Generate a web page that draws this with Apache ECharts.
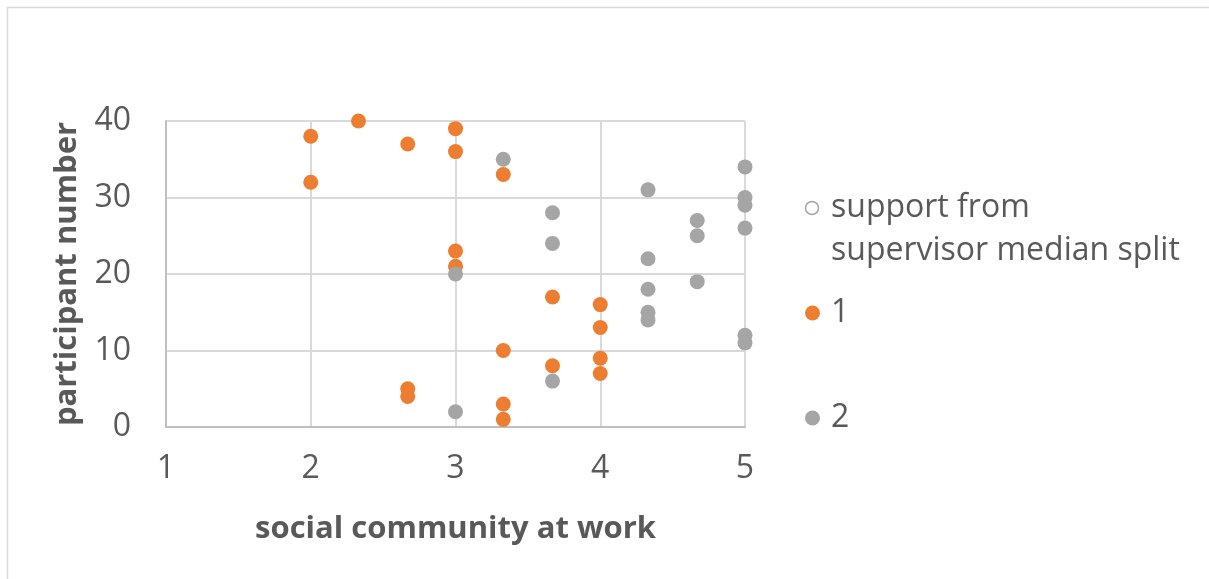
<!DOCTYPE html>
<html>
<head>
<meta charset="utf-8">
<script src="https://cdn.jsdelivr.net/npm/echarts@6/dist/echarts.min.js"></script>
<style>
  html, body { margin: 0; padding: 0; background: #ffffff; }
  #chart { width: 1209px; height: 579px; }
</style>
</head>
<body>
<div id="chart"></div>
<script>
// Group 1: low support from supervisor (median split)
const community1 = [2, 2, 2.33, 2.67, 3, 3, 3.33, 3, 3, 3.67, 4, 4, 3.33, 3.67, 4, 4, 2.67, 2.67, 3.33, 3.33];
const participant1 = [38, 32, 40, 37, 39, 36, 33, 23, 21, 17, 16, 13, 10, 8, 9, 7, 5, 4, 3, 1];

// Group 2: high support from supervisor (median split)
const community2 = [3.33, 3, 3, 3.67, 3.67, 3.67, 4.33, 4.33, 4.33, 4.33, 4.33, 4.67, 4.67, 4.67, 5, 5, 5, 5, 5, 5];
const participant2 = [35, 20, 2, 28, 24, 6, 31, 22, 18, 15, 14, 27, 25, 19, 34, 30, 29, 26, 12, 11];

const xTicks = [1, 2, 3, 4, 5];
const yTicks = [0, 10, 20, 30, 40];
const legendTitle = 'support from\nsupervisor median split';
const groupNames = ['1', '2'];

const pairs = (xs, ys) => xs.map((x, i) => [x, ys[i]]);

const FONT = '"Open Sans", sans-serif';
const TEXT = '#595959';
const ORANGE = '#ED7D31';
const GREY = '#A5A5A5';
const LABEL_SIZE = 32;
const TITLE_SIZE = 31;

const chart = echarts.init(document.getElementById('chart'), null, { renderer: 'canvas' });

const legendItem = (name, top) => ({
  data: [name], left: 805, top: top, orient: 'vertical', padding: 0,
  icon: 'circle', itemWidth: 15, itemHeight: 15,
  textStyle: { fontFamily: FONT, fontSize: LABEL_SIZE, color: TEXT, lineHeight: 40, padding: [0, 0, 0, 6] }
});

chart.setOption({
  animation: false,
  backgroundColor: '#ffffff',
  textStyle: { fontFamily: FONT },
  grid: { left: 166, top: 121, right: 464, bottom: 152, containLabel: false },
  xAxis: {
    type: 'value',
    min: xTicks[0],
    max: xTicks[xTicks.length - 1],
    interval: 1,
    name: 'social community at work',
    nameLocation: 'middle',
    nameGap: 87,
    nameTextStyle: { fontFamily: FONT, fontSize: TITLE_SIZE, fontWeight: 'bold', color: TEXT },
    axisLine: { show: true, onZero: false, lineStyle: { color: '#BFBFBF', width: 2 } },
    axisTick: { show: false },
    axisLabel: { margin: 26, fontFamily: FONT, fontSize: LABEL_SIZE, color: TEXT },
    splitLine: { show: true, lineStyle: { color: '#D9D9D9', width: 2 } }
  },
  yAxis: {
    type: 'value',
    min: yTicks[0],
    max: yTicks[yTicks.length - 1],
    interval: 10,
    name: 'participant number',
    nameLocation: 'middle',
    nameGap: 83,
    nameTextStyle: { fontFamily: FONT, fontSize: TITLE_SIZE, fontWeight: 'bold', color: TEXT },
    axisLine: { show: true, lineStyle: { color: '#BFBFBF', width: 2 } },
    axisTick: { show: false },
    axisLabel: { margin: 35, fontFamily: FONT, fontSize: LABEL_SIZE, color: TEXT },
    splitLine: { show: true, lineStyle: { color: '#D9D9D9', width: 2 } }
  },
  legend: [
    legendItem(groupNames[0], 293),
    legendItem(groupNames[1], 398)
  ],
  graphic: [
    {
      type: 'rect', silent: true,
      shape: { x: 7.5, y: 7.5, width: 1400, height: 800 },
      style: { fill: 'none', stroke: '#D9D9D9', lineWidth: 1.5 }
    },
    {
      type: 'circle', silent: true,
      shape: { cx: 812, cy: 208, r: 6.5 },
      style: { fill: '#ffffff', stroke: GREY, lineWidth: 1.5 }
    },
    {
      type: 'text', silent: true, left: 831, top: 186,
      style: { text: legendTitle, font: LABEL_SIZE + 'px ' + FONT, fill: TEXT, lineHeight: 43 }
    }
  ],
  series: [
    {
      name: groupNames[0], type: 'scatter', symbol: 'circle', symbolSize: 15,
      itemStyle: { color: ORANGE, opacity: 1 },
      data: pairs(community1, participant1)
    },
    {
      name: groupNames[1], type: 'scatter', symbol: 'circle', symbolSize: 15,
      itemStyle: { color: GREY, opacity: 1 },
      data: pairs(community2, participant2)
    }
  ]
});
</script>
</body>
</html>
